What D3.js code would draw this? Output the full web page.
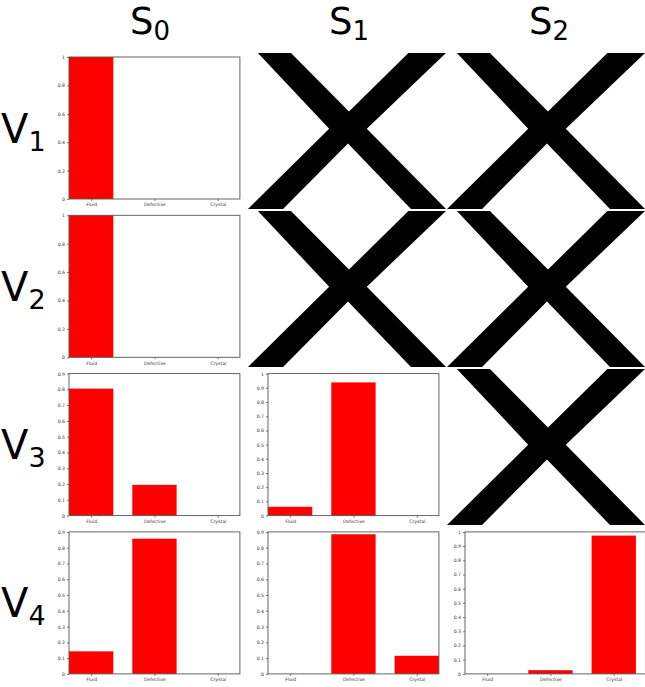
<!DOCTYPE html>
<html>
<head>
<meta charset="utf-8">
<script src="https://cdn.jsdelivr.net/npm/d3@7"></script>
<style>
  body { margin: 0; background: #fff; }
  svg { display: block; font-family: 'DejaVu Sans', sans-serif; }
</style>
</head>
<body>
<div id="chart"></div>
<script>
// ---- data ----
var categories = ['Fluid', 'Defective', 'Crystal'];
var colSubs = ['0', '1', '2'];        // S_0 .. S_2
var rowSubs = ['1', '2', '3', '4'];   // V_1 .. V_4
// probability per category, null = crossed-out cell
var probs = [
  [[1, 0, 0], null, null],
  [[1, 0, 0], null, null],
  [[0.805, 0.195, 0], [0.062, 0.938, 0], null],
  [[0.143, 0.857, 0], [0, 0.885, 0.115], [0, 0.026, 0.974]]
];
var tickSteps = [
  [0.2, null, null],
  [0.2, null, null],
  [0.1, 0.1, null],
  [0.1, 0.1, 0.1]
];

// ---- layout ----
var W = 645, H = 687;
var config = {
  axisLeft: [69, 268, 465],
  xRight: [2.35, 2.35, 2.5],
  axisTop: 57,
  rowStep: 158.3,
  axisH: 142,
  bandStep: 63.3,
  cellLeft: [50, 248, 447],
  cellW: 198,
  cellTop: 52,
  cellH: 158,
  cellGap: 2,
  titleX: [150, 349, 549]
};

var svg = d3.select('#chart').append('svg')
  .attr('width', W)
  .attr('height', H);

// X glyph outline (unit square)
var crossPts = [[0.05, 0], [0.217, 0], [0.51, 0.375], [0.81, 0], [1, 0], [0.6, 0.485],
  [1, 1], [0.823, 1], [0.505, 0.58], [0.177, 1], [0, 1], [0.41, 0.485]];

probs.forEach(function(row, ri){
  row.forEach(function(vals, ci){
    if(vals === null){
      var cTop = config.cellTop + ri*config.cellH + config.cellGap/2;
      var cx = d3.scaleLinear().range([config.cellLeft[ci], config.cellLeft[ci] + config.cellW]);
      var cy = d3.scaleLinear().range([cTop, cTop + config.cellH - config.cellGap]);
      svg.append('path')
        .attr('d', d3.line().x(function(p){ return cx(p[0]); }).y(function(p){ return cy(p[1]); })(crossPts) + 'Z')
        .attr('fill', '#000');
      return;
    }

    var x0 = config.axisLeft[ci];
    var top = config.axisTop + ri*config.rowStep;
    var xr = config.xRight[ci];
    var x = d3.scaleLinear()
      .domain([-0.35, xr])
      .range([x0, x0 + (xr + 0.35)*config.bandStep]);
    var y = d3.scaleLinear()
      .domain([0, d3.max(vals)])
      .nice(10)
      .range([top + config.axisH, top]);

    var g = svg.append('g');

    // bars
    g.selectAll('rect.bar')
      .data(vals)
      .enter()
      .append('rect')
      .attr('class', 'bar')
      .attr('x', function(d, i){ return x(i - 0.35); })
      .attr('width', x(0.35) - x(-0.35))
      .attr('y', function(d){ return y(d); })
      .attr('height', function(d){ return y(0) - y(d); })
      .attr('fill', '#ff0000');

    // frame
    g.append('rect')
      .attr('x', x.range()[0])
      .attr('y', top)
      .attr('width', x.range()[1] - x.range()[0])
      .attr('height', config.axisH)
      .attr('fill', 'none')
      .attr('stroke', '#555')
      .attr('stroke-width', 0.9);

    // y axis
    var step = tickSteps[ri][ci];
    var yTicks = d3.range(0, y.domain()[1] + step/2, step);
    var yAxis = d3.axisLeft(y)
      .tickValues(yTicks)
      .tickSize(2)
      .tickPadding(2)
      .tickFormat(d3.format('.1~f'));
    var ya = g.append('g')
      .attr('transform', 'translate(' + x0 + ',0)')
      .call(yAxis);

    // x axis
    var xAxis = d3.axisBottom(x)
      .tickValues([0, 1, 2])
      .tickSize(2)
      .tickPadding(2)
      .tickFormat(function(d){ return categories[d]; });
    var xa = g.append('g')
      .attr('transform', 'translate(0,' + (top + config.axisH) + ')')
      .call(xAxis);

    [ya, xa].forEach(function(a){
      a.select('.domain').remove();
      a.selectAll('line').attr('stroke', '#555').attr('stroke-width', 0.8);
      a.selectAll('text')
        .attr('fill', '#333')
        .style('font-size', '4.6px')
        .style('font-family', "'DejaVu Sans', sans-serif");
    });
  });
});

// column titles S_i
colSubs.forEach(function(s, i){
  var t = svg.append('text')
    .attr('x', config.titleX[i])
    .attr('y', 34)
    .attr('text-anchor', 'middle')
    .attr('fill', '#000')
    .style('font-size', '37px');
  t.append('tspan').text('S');
  t.append('tspan').attr('dy', 6).style('font-size', '26px').text(s);
});

// row titles V_i
rowSubs.forEach(function(s, i){
  var t = svg.append('text')
    .attr('x', 1)
    .attr('y', config.axisTop + i*config.rowStep + config.axisH/2 + 14.5)
    .attr('fill', '#000')
    .style('font-size', '40px');
  t.append('tspan').text('V');
  t.append('tspan').attr('dy', 8).style('font-size', '27px').text(s);
});
</script>
</body>
</html>
